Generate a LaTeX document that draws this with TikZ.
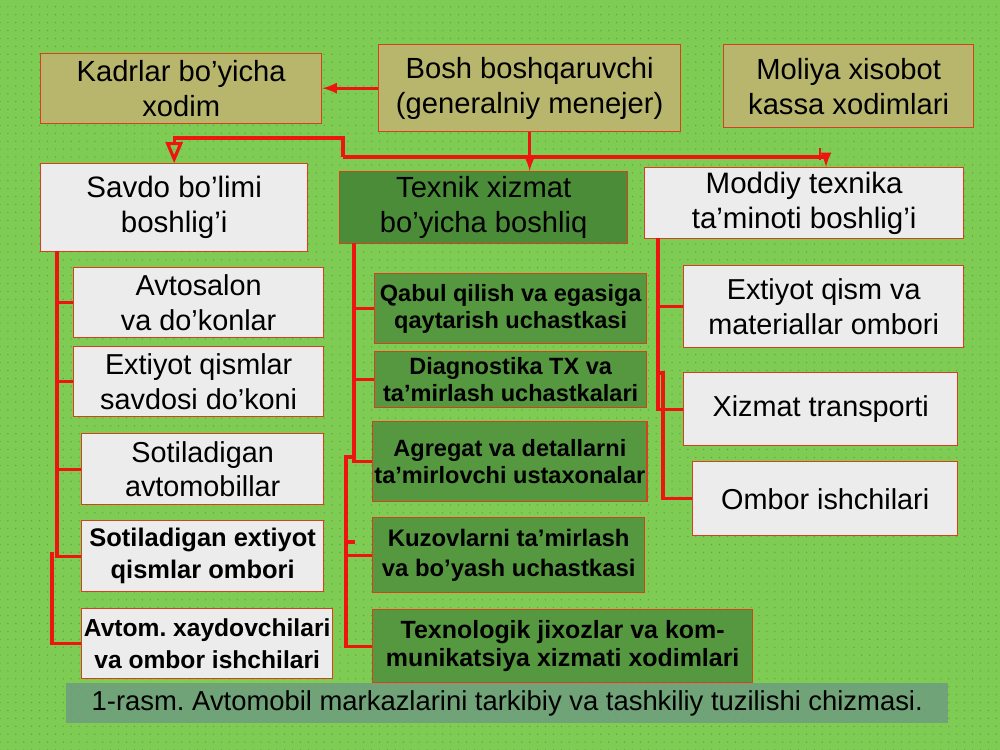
\documentclass[tikz,border=0pt]{standalone}
\usepackage{fontspec}
\setmainfont{Liberation Sans}
\usetikzlibrary{arrows, patterns.meta}
\definecolor{bggreen}{RGB}{126,204,84}
\definecolor{dotgreen}{RGB}{92,162,62}
\definecolor{olivefill}{RGB}{184,182,108}
\definecolor{marble}{RGB}{236,236,236}
\definecolor{leafgreen}{RGB}{86,152,64}
\definecolor{darkleaf}{RGB}{74,140,56}
\definecolor{boxline}{RGB}{214,64,30}
\definecolor{linered}{RGB}{238,20,16}
\definecolor{capfill}{RGB}{110,156,126}
\tikzset{>=latex, x=0.02cm, y=-0.02cm,
  box/.style={draw=boxline, line width=0.8pt, inner sep=1pt, align=center, anchor=north west},
  boxsize/.style 2 args={minimum width=#1cm, minimum height=#2cm},
  olivebox/.style={box, fill=olivefill, font=\fontsize{16.6}{19.8}\selectfont},
  headgreen/.style={box, fill=darkleaf, font=\fontsize{16.6}{19.8}\selectfont},
  whitebox/.style={box, fill=marble, font=\fontsize{16.4}{19.8}\selectfont},
  whitebold/.style={box, fill=marble, font=\bfseries\fontsize{14.5}{18}\selectfont},
  greenbox/.style={box, fill=leafgreen, font=\bfseries\fontsize{13.4}{15.5}\selectfont},
  conn/.style={draw=linered, line width=1.8pt}}

\begin{document}
\frenchspacing
\begin{tikzpicture}
	\useasboundingbox (0,0) rectangle (1000,750);
	\fill[bggreen] (0,0) rectangle (1000,750);
	\fill[pattern={Dots[distance=4.5pt, radius=0.4pt]}, pattern color=dotgreen] (0,0) rectangle (1000,750);

	% top row
	\node[olivebox, boxsize={5.62}{1.40}] (kadr) at (40,53) {Kadrlar bo’yicha\\ xodim};
	\node[olivebox, boxsize={6.04}{1.74}] (bosh) at (378,44) {Bosh boshqaruvchi\\ (generalniy menejer)};
	\node[olivebox, boxsize={5.00}{1.66}] (moliya) at (723,44) {Moliya xisobot\\ kassa xodimlari};

	% heads
	\node[whitebox, boxsize={5.34}{1.76}, font=\fontsize{16.8}{19.8}\selectfont] (savdo) at (40,163) {Savdo bo’limi\\ boshlig’i};
	\node[headgreen, boxsize={5.76}{1.44}] (texnik) at (339,171) {Texnik xizmat\\ bo’yicha boshliq};
	\node[whitebox, boxsize={6.38}{1.42}, font=\fontsize{16.8}{19.8}\selectfont] (moddiy) at (644,167) {Moddiy texnika\\ ta’minoti boshlig’i};

	% left column
	\node[whitebox, boxsize={5.00}{1.40}] (avtosalon) at (73,267) {Avtosalon\\ va do’konlar};
	\node[whitebox, boxsize={5.00}{1.40}] (extqism) at (73,346) {Extiyot qismlar\\ savdosi do’koni};
	\node[whitebox, boxsize={4.84}{1.42}] (sotil) at (81,433) {Sotiladigan\\ avtomobillar};
	\node[whitebold, boxsize={4.84}{1.42}] (sotext) at (81,520) {Sotiladigan extiyot\\ qismlar ombori};
	\node[whitebold, boxsize={5.02}{1.40}, font=\bfseries\fontsize{14}{18}\selectfont] (avtom) at (81,608) {Avtom. xaydovchilari\\ va ombor ishchilari};

	% middle column
	\node[greenbox, boxsize={5.44}{1.40}] (qabul) at (374,273) {Qabul qilish va egasiga\\ qaytarish uchastkasi};
	\node[greenbox, boxsize={5.44}{1.12}] (diagn) at (374,351) {Diagnostika TX va\\ ta’mirlash uchastkalari};
	\node[greenbox, boxsize={5.44}{1.60}] (agregat) at (372,421) {Agregat va detallarni\\ ta’mirlovchi ustaxonalar};
	\node[greenbox, boxsize={5.44}{1.50}, font=\bfseries\fontsize{13.6}{17}\selectfont] (kuzov) at (372,517) {Kuzovlarni ta’mirlash\\ va bo’yash uchastkasi};
	\node[greenbox, boxsize={7.60}{1.46}, font=\bfseries\fontsize{14.2}{16}\selectfont] (texnol) at (372,609) {Texnologik jixozlar va kom-\\ munikatsiya xizmati xodimlari};

	% right column
	\node[whitebox, boxsize={5.60}{1.64}] (extmat) at (683,265) {Extiyot qism va\\ materiallar ombori};
	\node[whitebox, boxsize={5.48}{1.46}] (xizmat) at (683,372) {Xizmat transporti};
	\node[whitebox, boxsize={5.30}{1.48}] (ombor) at (692,461) {Ombor ishchilari};

	% caption
	\node[anchor=north west, fill=capfill, fill opacity=0.85, text opacity=1, boxsize={17.64}{0.80}, inner sep=0pt, font=\fontsize{15.6}{17}\selectfont] (caption) at (66,683) {1-rasm. Avtomobil markazlarini tarkibiy va tashkiliy tuzilishi chizmasi.};

	% top connectors
	\coordinate (busL) at (343,157);
	\coordinate (busU) at (343,138);
	\coordinate (busR) at (826,157);
	\coordinate (busK) at (820,148);
	\draw[conn, ->] (bosh.west) -- (kadr.east |- bosh.west);
	\draw[conn, ->] (bosh.south) -- (bosh.south |- texnik.north);
	\draw[conn] (busL) -- (busR);
	\draw[conn, -open triangle 45] (busL) -- (busU) -| (savdo.north);
	\draw[conn, ->] (busR) -- (busR |- moddiy.north);
	\draw[conn, line width=1.2pt] (busK) -- ++(0,12);

	% left bus
	\coordinate (lbus) at (57,251);
	\coordinate (lbus2) at (52,552);
	\draw[conn] (lbus) |- (sotext.west);
	\foreach \n in {avtosalon, extqism, sotil}
		\draw[conn] (lbus |- \n.west) -- (\n.west);
	\draw[conn] (lbus2) |- (avtom.west);

	% middle bus
	\coordinate (mbus) at (354,243);
	\coordinate (mbus2) at (346,457);
	\coordinate (mtick) at (346,542);
	\draw[conn] (mbus) |- (agregat.west);
	\foreach \n in {qabul, diagn}
		\draw[conn] (mbus |- \n.west) -- (\n.west);
	\draw[conn] (mbus |- mbus2) -- (mbus2) |- (texnol.west);
	\draw[conn] (mbus2 |- kuzov.west) -- (kuzov.west);
	\draw[conn] (mtick) -- ++(9,0);

	% right bus
	\coordinate (rbus) at (658,238);
	\coordinate (rloop) at (658,373);
	\draw[conn] (rbus) |- (xizmat.west);
	\draw[conn] (rbus |- extmat.west) -- (extmat.west);
	\draw[conn] (rloop) -- ++(5,0) |- (ombor.west);
\end{tikzpicture}
\end{document}
